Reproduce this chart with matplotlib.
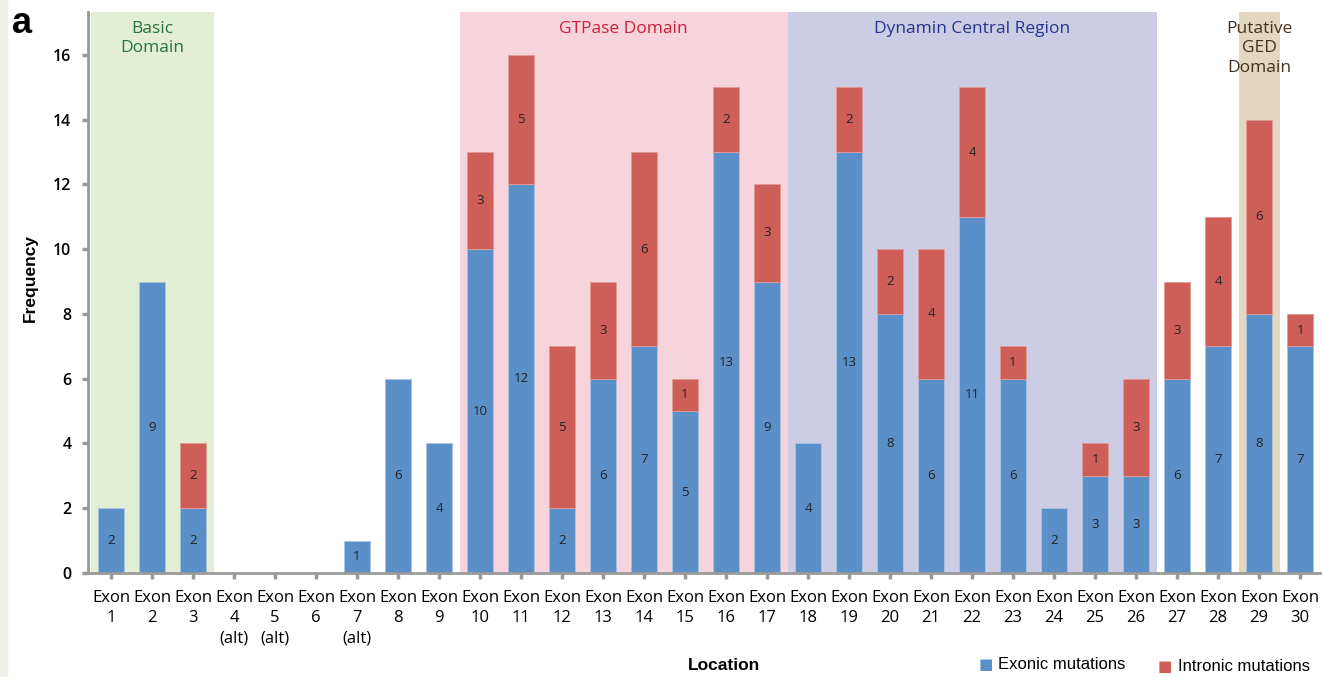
#!/usr/bin/env python3
"""Exon-wise distribution of exonic / intronic mutations with domain shading."""

import matplotlib.pyplot as plt
import numpy as np
from matplotlib.patches import Rectangle

EXONS = ["Exon\n1", "Exon\n2", "Exon\n3", "Exon\n4\n(alt)", "Exon\n5\n(alt)", "Exon\n6",
         "Exon\n7\n(alt)", "Exon\n8", "Exon\n9", "Exon\n10", "Exon\n11", "Exon\n12",
         "Exon\n13", "Exon\n14", "Exon\n15", "Exon\n16", "Exon\n17", "Exon\n18",
         "Exon\n19", "Exon\n20", "Exon\n21", "Exon\n22", "Exon\n23", "Exon\n24",
         "Exon\n25", "Exon\n26", "Exon\n27", "Exon\n28", "Exon\n29", "Exon\n30"]
EXONIC = [2, 9, 2, 0, 0, 0, 1, 6, 4, 10, 12, 2, 6, 7, 5, 13, 9, 4, 13, 8, 6, 11, 6, 2, 3, 3, 6, 7, 8, 7]
INTRONIC = [0, 0, 2, 0, 0, 0, 0, 0, 0, 3, 4, 5, 3, 6, 1, 2, 3, 0, 2, 2, 4, 4, 1, 0, 1, 3, 3, 4, 6, 1]
# printed labels in the original (exon 11 says 5 while the bar spans 4)
INTRONIC_LABELS = ["", "", "2", "", "", "", "", "", "", "3", "5", "5", "3", "6", "1", "2", "3",
                   "", "2", "2", "4", "4", "1", "", "1", "3", "3", "4", "6", "1"]

# domain name, first exon index, last exon index, fill, text colour
DOMAINS = [
    ("Basic\nDomain", 0, 2, "#e2efd5", "#25733a"),
    ("GTPase Domain", 9, 16, "#f7d3dc", "#cc1f38"),
    ("Dynamin Central Region", 17, 25, "#cccce4", "#24358c"),
    ("Putative\nGED\nDomain", 28, 28, "#e3d7bf", "#45301f"),
]

BLUE = "#5b8fc8"
RED = "#cd5f58"
AXIS_GREY = "#9a9a9a"

plt.rcParams["font.family"] = ["Open Sans", "DejaVu Sans"]

fig = plt.figure(figsize=(13.22, 6.77), dpi=100)
ax = fig.add_axes([0.0666, 0.1536, 0.932, 0.828])

ymax = 17.31
x = np.arange(len(EXONS))
width = 0.64

for name, lo, hi, fill, tcol in DOMAINS:
    ax.axvspan(lo - 0.5, hi + 0.5, color=fill, zorder=0, lw=0)
    ax.text((lo + hi) / 2, ymax - 0.25, name, ha="center", va="top",
            fontsize=12.5, color=tcol, linespacing=1.3)

exonic = np.array(EXONIC)
intronic = np.array(INTRONIC)
ax.bar(x, exonic, width, color=BLUE, edgecolor="#a9c4e4",
       linewidth=np.where(exonic > 0, 0.6, 0), zorder=2, label="Exonic mutations")
ax.bar(x, intronic, width, bottom=exonic, color=RED, edgecolor="#e09a95",
       linewidth=np.where(intronic > 0, 0.6, 0), zorder=2, label="Intronic mutations")

for i in range(len(x)):
    if exonic[i] > 0:
        ax.text(x[i], exonic[i] / 2, str(exonic[i]), ha="center", va="center",
                fontsize=9.5, color="#222222", zorder=3)
    if INTRONIC_LABELS[i]:
        ax.text(x[i], exonic[i] + intronic[i] / 2, INTRONIC_LABELS[i], ha="center",
                va="center", fontsize=9.5, color="#222222", zorder=3)

ax.set_xlim(-0.56, 29.49)
ax.set_ylim(0, ymax)
ax.set_yticks(range(0, 17, 2))
ax.set_xticks(x)
ax.set_xticklabels(EXONS, fontsize=12, linespacing=1.38, va="top")
ax.tick_params(axis="y", labelsize=11.5, length=4, width=2.5, color=AXIS_GREY, pad=8)
ax.tick_params(axis="x", length=4, width=2.5, color=AXIS_GREY, pad=8)
for lab in ax.get_yticklabels():
    lab.set_fontweight("semibold")

for side in ["top", "right"]:
    ax.spines[side].set_visible(False)
for side in ["left", "bottom"]:
    ax.spines[side].set_color(AXIS_GREY)
    ax.spines[side].set_linewidth(2)
ax.spines["bottom"].set_zorder(4)

fig.text(0.0227, 0.589, "Frequency", rotation=90, ha="center", va="center",
         fontsize=12.5, fontweight="bold", family=["Liberation Sans", "DejaVu Sans"])
fig.text(0.548, 0.017, "Location", ha="center", va="center",
         fontsize=12.5, fontweight="bold", family=["Liberation Sans", "DejaVu Sans"])
fig.text(0.009, 0.965, "a", ha="left", va="center", fontsize=26, fontweight="bold",
         family=["Liberation Sans", "DejaVu Sans"])

# legend drawn as plain markers + text to sit in the bottom-right corner
fig.text(0.740, 0.018, "\u25a0", color=BLUE, fontsize=11, va="center",
         family=["DejaVu Sans"])
fig.text(0.755, 0.018, "Exonic mutations", fontsize=12, va="center",
         family=["Liberation Sans", "DejaVu Sans"])
fig.text(0.876, 0.016, "\u25a0", color=RED, fontsize=11, va="center",
         family=["DejaVu Sans"])
fig.text(0.891, 0.016, "Intronic mutations", fontsize=12, va="center",
         family=["Liberation Sans", "DejaVu Sans"])

# thin light strip at the left border of the original image
fig.patches.append(Rectangle((0, 0), 0.005, 1, transform=fig.transFigure,
                             color="#efefe8", zorder=0))

fig.savefig("out.png", dpi=100)
